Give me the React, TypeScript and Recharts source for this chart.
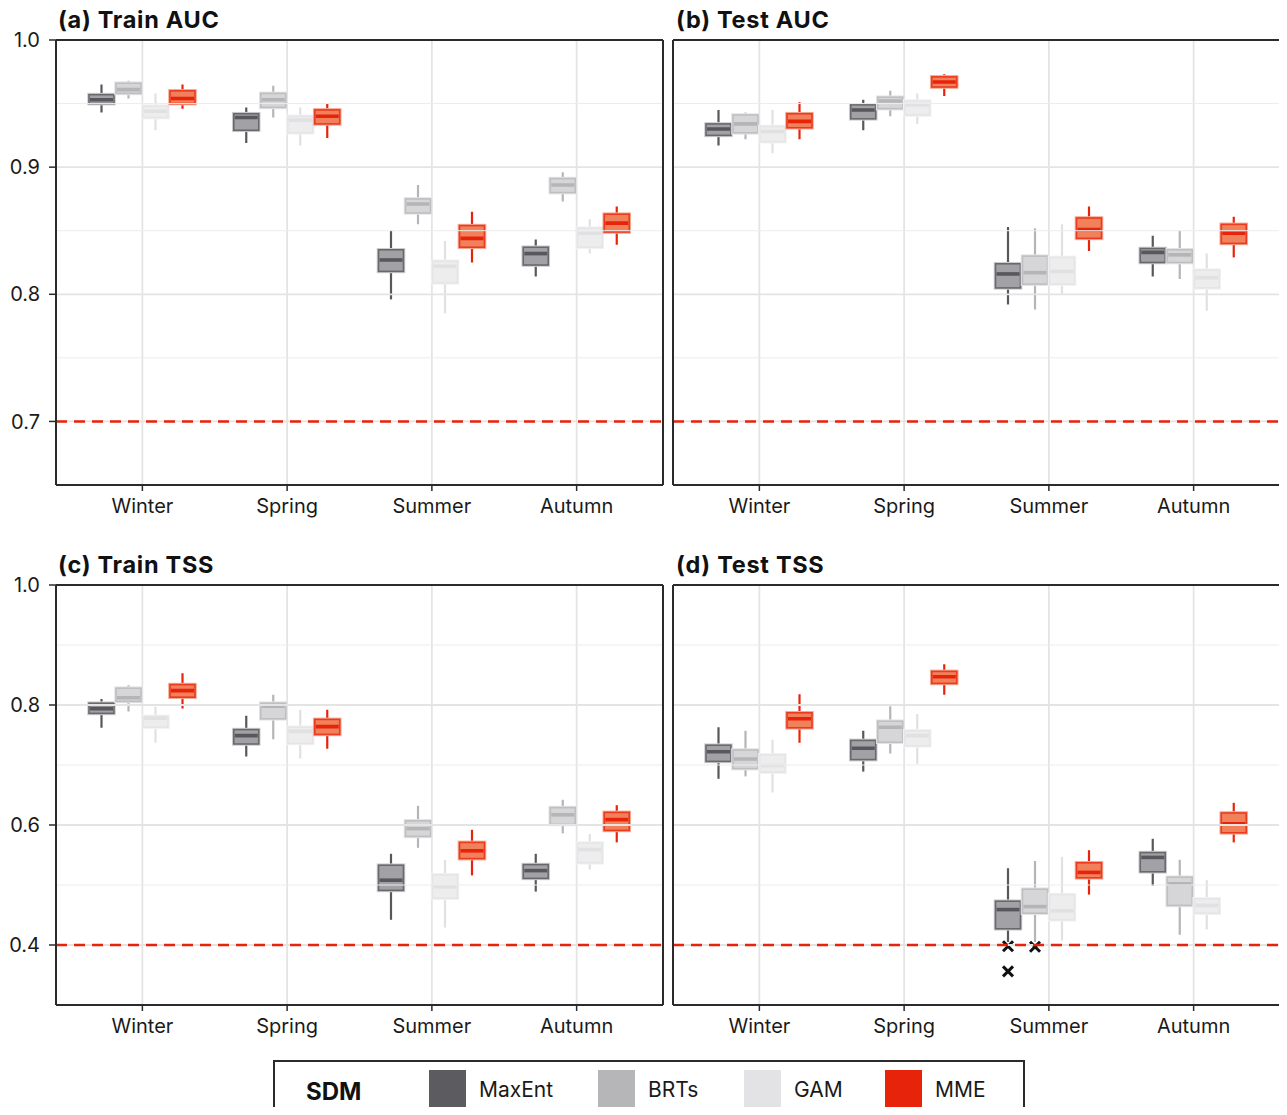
import React from "react";
import { ComposedChart, Bar, XAxis, YAxis, CartesianGrid, ReferenceLine } from "recharts";

const FONT = "Inter, 'Liberation Sans', Arial, sans-serif";

const SEASONS = ["Winter", "Spring", "Summer", "Autumn"];
const MODEL_NAMES = ["MaxEnt", "BRTs", "GAM", "MME"];

const AUC_TICKS = [0.7, 0.8, 0.9, 1.0];
const AUC_MINOR = [0.75, 0.85, 0.95];
const TSS_TICKS = [0.4, 0.6, 0.8, 1.0];
const TSS_MINOR = [0.5, 0.7, 0.9];

// each row: [min, q1, median, q3, max] for Winter, Spring, Summer, Autumn
const trainAucMaxEnt = [
  [0.943, 0.95, 0.953, 0.957, 0.965],
  [0.919, 0.929, 0.939, 0.942, 0.947],
  [0.796, 0.818, 0.827, 0.835, 0.85],
  [0.814, 0.823, 0.832, 0.837, 0.843],
];
const trainAucBrts = [
  [0.954, 0.958, 0.961, 0.966, 0.968],
  [0.939, 0.947, 0.953, 0.958, 0.964],
  [0.855, 0.864, 0.871, 0.875, 0.886],
  [0.873, 0.88, 0.886, 0.891, 0.896],
];
const trainAucGam = [
  [0.929, 0.939, 0.944, 0.948, 0.958],
  [0.917, 0.927, 0.937, 0.94, 0.947],
  [0.785, 0.809, 0.822, 0.826, 0.842],
  [0.832, 0.837, 0.848, 0.852, 0.859],
];
const trainAucMme = [
  [0.946, 0.95, 0.954, 0.96, 0.965],
  [0.923, 0.934, 0.94, 0.945, 0.95],
  [0.825, 0.837, 0.844, 0.854, 0.865],
  [0.839, 0.849, 0.856, 0.863, 0.869],
];

const testAucMaxEnt = [
  [0.917, 0.925, 0.93, 0.934, 0.945],
  [0.929, 0.938, 0.945, 0.949, 0.953],
  [0.792, 0.805, 0.816, 0.824, 0.853],
  [0.814, 0.825, 0.833, 0.836, 0.846],
];
const testAucBrts = [
  [0.922, 0.927, 0.934, 0.941, 0.943],
  [0.94, 0.946, 0.952, 0.955, 0.96],
  [0.788, 0.808, 0.817, 0.83, 0.852],
  [0.812, 0.825, 0.831, 0.835, 0.85],
];
const testAucGam = [
  [0.911, 0.92, 0.928, 0.932, 0.945],
  [0.934, 0.941, 0.949, 0.952, 0.958],
  [0.8, 0.808, 0.818, 0.829, 0.855],
  [0.787, 0.805, 0.813, 0.819, 0.832],
];
const testAucMme = [
  [0.922, 0.931, 0.936, 0.942, 0.951],
  [0.956, 0.963, 0.967, 0.971, 0.973],
  [0.834, 0.844, 0.851, 0.86, 0.869],
  [0.829, 0.84, 0.848, 0.855, 0.861],
];

const trainTssMaxEnt = [
  [0.762, 0.786, 0.794, 0.803, 0.81],
  [0.714, 0.735, 0.749, 0.759, 0.782],
  [0.442, 0.491, 0.508, 0.533, 0.552],
  [0.489, 0.511, 0.524, 0.534, 0.552],
];
const trainTssBrts = [
  [0.789, 0.806, 0.812, 0.828, 0.833],
  [0.743, 0.777, 0.798, 0.803, 0.817],
  [0.562, 0.581, 0.594, 0.607, 0.632],
  [0.586, 0.601, 0.617, 0.629, 0.642],
];
const trainTssGam = [
  [0.737, 0.763, 0.778, 0.781, 0.797],
  [0.711, 0.736, 0.756, 0.763, 0.792],
  [0.429, 0.478, 0.497, 0.517, 0.542],
  [0.526, 0.537, 0.559, 0.57, 0.585],
];
const trainTssMme = [
  [0.794, 0.813, 0.824, 0.834, 0.853],
  [0.727, 0.751, 0.764, 0.776, 0.792],
  [0.516, 0.544, 0.557, 0.571, 0.592],
  [0.571, 0.591, 0.609, 0.621, 0.633],
];

const testTssMaxEnt = [
  [0.677, 0.706, 0.722, 0.733, 0.763],
  [0.689, 0.709, 0.728, 0.741, 0.757],
  [0.405, 0.427, 0.459, 0.473, 0.528],
  [0.499, 0.522, 0.546, 0.554, 0.577],
];
const testTssBrts = [
  [0.681, 0.694, 0.71, 0.725, 0.757],
  [0.719, 0.738, 0.763, 0.773, 0.798],
  [0.405, 0.453, 0.464, 0.493, 0.54],
  [0.417, 0.466, 0.502, 0.513, 0.542],
];
const testTssGam = [
  [0.654, 0.688, 0.699, 0.717, 0.742],
  [0.702, 0.732, 0.749, 0.757, 0.785],
  [0.407, 0.442, 0.457, 0.484, 0.547],
  [0.426, 0.453, 0.466, 0.477, 0.508],
];
const testTssMme = [
  [0.737, 0.762, 0.777, 0.787, 0.818],
  [0.817, 0.836, 0.847, 0.856, 0.868],
  [0.484, 0.512, 0.521, 0.537, 0.558],
  [0.571, 0.587, 0.602, 0.62, 0.637],
];

// outliers per season
const testTssMaxEntOutliers = [[], [], [0.398, 0.356], []];
const testTssBrtsOutliers = [[], [], [0.397], []];

const STYLES = [
  { line: "#58575c", fill: "#a2a1a5", edge: "#69686d", halo: "#cfcfd1", swatch: "#5c5b60" },
  { line: "#b5b5b8", fill: "#d6d6d8", edge: "#bfbfc1", halo: "#e4e4e5", swatch: "#b6b6b9" },
  { line: "#e1e1e3", fill: "#ededee", edge: "#e5e5e7", halo: "#f2f2f3", swatch: "#e3e3e5" },
  { line: "#e8230b", fill: "#f0815b", edge: "#ea3a1f", halo: "#f6aa94", swatch: "#e8230b" },
];

const BoxShape = (props: any) => {
  const { x, y, width, height, stats, outliers, style } = props;
  if (!stats) return null;
  const [lo, q1, med, q3, hi] = stats;
  const yTop = Math.min(y, y + height);
  const yBot = Math.max(y, y + height);
  const toY = (v: number) => yBot - ((v - lo) / (hi - lo)) * (yBot - yTop);
  const cx = x + width / 2;
  const bt = toY(q3);
  const bb = toY(q1);
  return (
    <g>
      <line x1={cx} x2={cx} y1={toY(hi)} y2={bt} stroke={style.line} strokeWidth={2.2} />
      <line x1={cx} x2={cx} y1={bb} y2={toY(lo)} stroke={style.line} strokeWidth={2.2} />
      <rect x={x} y={bt} width={width} height={bb - bt} fill="none" stroke={style.halo} strokeWidth={3.6} />
      <rect x={x} y={bt} width={width} height={bb - bt} fill={style.fill} stroke={style.edge} strokeWidth={1.6} />
      <line x1={x + 1} x2={x + width - 1} y1={toY(med)} y2={toY(med)} stroke={style.line} strokeWidth={3.6} />
      {(outliers || []).map((v: number, i: number) => {
        const oy = toY(v);
        return (
          <g key={i} stroke="#111" strokeWidth={3}>
            <line x1={cx - 5} x2={cx + 5} y1={oy - 5} y2={oy + 5} />
            <line x1={cx - 5} x2={cx + 5} y1={oy + 5} y2={oy - 5} />
          </g>
        );
      })}
    </g>
  );
};

type PanelProps = {
  stats: number[][][];
  outliers?: (number[][] | undefined)[];
  domain: [number, number];
  ticks: number[];
  minor: number[];
  threshold: number;
  left: number;
  top: number;
  width: number;
  height: number;
  leftLabels: boolean;
};

function Panel(p: PanelProps) {
  const data = SEASONS.map((season, i) => {
    const row: any = { season };
    p.stats.forEach((s, j) => {
      row["m" + j] = [s[i][0], s[i][4]];
    });
    return row;
  });
  const axisLine = { stroke: "#2b2b2b", strokeWidth: 2 };
  const major = p.ticks.filter((t) => t < p.domain[1]);
  return (
    <div style={{ position: "absolute", left: p.left, top: p.top }}>
      <ComposedChart
        width={p.width}
        height={p.height}
        data={data}
        margin={{ top: 40, right: 0, bottom: 0, left: 0 }}
        barSize={25}
        barGap={2}
      >
        <CartesianGrid stroke="#e4e4e4" strokeWidth={1.8} horizontal={false} />
        {p.minor.map((v) => (
          <ReferenceLine key={"n" + v} y={v} stroke="#ececec" strokeWidth={1} />
        ))}
        {major.map((v) => (
          <ReferenceLine key={"j" + v} y={v} stroke="#e4e4e4" strokeWidth={1.8} />
        ))}
        <ReferenceLine y={p.threshold} stroke="#e8230b" strokeWidth={2.5} strokeDasharray="11 7" />
        <ReferenceLine y={p.domain[1]} stroke="#2b2b2b" strokeWidth={2} ifOverflow="visible" />
        <XAxis
          dataKey="season"
          type="category"
          padding={{ left: 14, right: 14 }}
          height={45}
          axisLine={axisLine}
          tickLine={{ stroke: "#2b2b2b", strokeWidth: 1.5 }}
          tickSize={6}
          tickMargin={8}
          tick={{ fontSize: 20, fill: "#1a1a1a", fontFamily: FONT }}
        />
        <YAxis
          type="number"
          domain={p.domain}
          ticks={p.ticks}
          allowDataOverflow
          width={p.leftLabels ? 56 : 8}
          axisLine={axisLine}
          tickLine={p.leftLabels ? { stroke: "#2b2b2b", strokeWidth: 1.5 } : false}
          tickSize={7}
          tickMargin={9}
          tick={p.leftLabels ? { fontSize: 20, fill: "#1a1a1a", fontFamily: FONT } : false}
          tickFormatter={(v: number) => v.toFixed(1)}
        />
        <YAxis
          yAxisId="right"
          orientation="right"
          type="number"
          domain={p.domain}
          ticks={p.ticks}
          allowDataOverflow
          width={7}
          axisLine={axisLine}
          tickLine={p.leftLabels ? false : { stroke: "#2b2b2b", strokeWidth: 1.5 }}
          tickSize={6}
          tick={false}
        />
        {p.stats.map((s, j) => (
          <Bar
            key={j}
            dataKey={"m" + j}
            name={MODEL_NAMES[j]}
            isAnimationActive={false}
            shape={(bp: any) => {
              const idx = SEASONS.indexOf(bp.payload.season);
              const out = p.outliers && p.outliers[j] ? p.outliers[j]![idx] : [];
              return <BoxShape {...bp} stats={s[idx]} outliers={out} style={STYLES[j]} />;
            }}
          />
        ))}
      </ComposedChart>
    </div>
  );
}

export default function App() {
  const legendX = [429, 598, 744, 885];
  return (
    <div
      style={{
        position: "relative",
        width: 1287,
        height: 1115,
        margin: -8,
        background: "#fff",
        overflow: "hidden",
        fontFamily: FONT,
      }}
    >
      <Panel
        stats={[trainAucMaxEnt, trainAucBrts, trainAucGam, trainAucMme]}
        domain={[0.65, 1]}
        ticks={AUC_TICKS}
        minor={AUC_MINOR}
        threshold={0.7}
        left={0}
        top={0}
        width={670}
        height={530}
        leftLabels
      />
      <Panel
        stats={[testAucMaxEnt, testAucBrts, testAucGam, testAucMme]}
        domain={[0.65, 1]}
        ticks={AUC_TICKS}
        minor={AUC_MINOR}
        threshold={0.7}
        left={665}
        top={0}
        width={622}
        height={530}
        leftLabels={false}
      />
      <Panel
        stats={[trainTssMaxEnt, trainTssBrts, trainTssGam, trainTssMme]}
        domain={[0.3, 1]}
        ticks={TSS_TICKS}
        minor={TSS_MINOR}
        threshold={0.4}
        left={0}
        top={545}
        width={670}
        height={505}
        leftLabels
      />
      <Panel
        stats={[testTssMaxEnt, testTssBrts, testTssGam, testTssMme]}
        outliers={[testTssMaxEntOutliers, testTssBrtsOutliers]}
        domain={[0.3, 1]}
        ticks={TSS_TICKS}
        minor={TSS_MINOR}
        threshold={0.4}
        left={665}
        top={545}
        width={622}
        height={505}
        leftLabels={false}
      />
      <svg
        width={1287}
        height={1115}
        style={{ position: "absolute", left: 0, top: 0, pointerEvents: "none" }}
        fontFamily={FONT}
      >
        <g fontSize={23.5} fontWeight={700} fill="#111" letterSpacing={0.7}>
          <text x={58} y={28}>(a) Train AUC</text>
          <text x={676} y={28}>(b) Test AUC</text>
          <text x={58} y={573}>(c) Train TSS</text>
          <text x={676} y={573}>(d) Test TSS</text>
        </g>
        <rect x={274} y={1061} width={750} height={52} fill="#fff" stroke="#2b2b2b" strokeWidth={2} />
        <text x={306} y={1100} fontSize={24} fontWeight={700} fill="#111">SDM</text>
        {MODEL_NAMES.map((name, i) => (
          <g key={name}>
            <rect x={legendX[i]} y={1070} width={37} height={37} fill={STYLES[i].swatch} />
            <text x={legendX[i] + 50} y={1097} fontSize={21} fill="#1a1a1a">{name}</text>
          </g>
        ))}
      </svg>
    </div>
  );
}
